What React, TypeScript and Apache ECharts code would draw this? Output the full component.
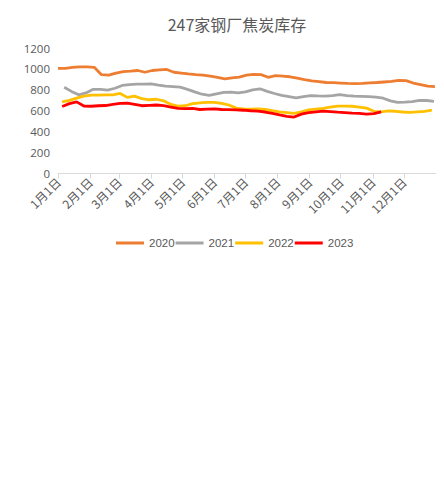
import React, { useEffect, useRef } from "react";
import * as echarts from "echarts";

const monthDays = [31, 28, 31, 30, 31, 30, 31, 31, 30, 31, 30, 31];
const seriesNames = ["2020", "2021", "2022", "2023"];
const seriesColors = ["#ED7D31", "#A5A5A5", "#FFC000", "#FF0000"];
// first day-of-year index of each weekly series, step 7 days
const seriesStartDay = [0, 6, 4, 4];

const values2020 = [1005, 1005, 1015, 1020, 1020, 1015, 945, 940, 960, 975, 978, 985, 968, 985, 990, 995, 968, 960, 952, 945, 940, 930, 918, 905, 915, 922, 940, 948, 945, 920, 935, 932, 925, 912, 898, 885, 878, 870, 868, 865, 862, 860, 862, 866, 870, 875, 880, 890, 888, 865, 850, 835, 830];
const values2021 = [824, 785, 752, 770, 805, 805, 797, 815, 842, 850, 855, 855, 856, 845, 835, 830, 825, 805, 780, 758, 748, 762, 775, 778, 770, 780, 800, 810, 785, 765, 748, 735, 722, 735, 745, 742, 740, 745, 755, 745, 740, 738, 735, 730, 720, 695, 680, 683, 688, 700, 698, 690];
const values2022 = [686, 700, 720, 740, 750, 750, 752, 752, 765, 728, 740, 715, 705, 710, 695, 660, 645, 648, 668, 675, 680, 680, 670, 655, 625, 618, 615, 618, 612, 600, 590, 583, 575, 590, 608, 615, 622, 635, 645, 645, 643, 635, 625, 595, 590, 598, 595, 588, 585, 590, 595, 605];
const values2023 = [640, 668, 685, 645, 643, 648, 650, 660, 670, 672, 662, 648, 652, 655, 648, 635, 622, 620, 622, 612, 615, 618, 612, 610, 608, 605, 600, 596, 588, 575, 560, 546, 540, 568, 582, 590, 596, 592, 586, 582, 577, 574, 568, 572, 590];
const allValues = [values2020, values2021, values2022, values2023];

const yTicks = [0, 200, 400, 600, 800, 1000, 1200];

export default function App() {
  const ref = useRef<HTMLDivElement>(null);
  useEffect(() => {
    if (!ref.current) return;
    const chart = echarts.init(ref.current, null, { renderer: "svg" });
    const categories: string[] = [];
    const monthStarts: number[] = [];
    let idx = 0;
    monthDays.forEach((n, m) => {
      monthStarts.push(idx);
      for (let d = 1; d <= n; d++) {
        categories.push(`${m + 1}月${d}日`);
        idx++;
      }
    });
    categories.push("1月1日 ");
    const lastIdx = categories.length - 1;

    const series = seriesNames.map((name, i) => ({
      name,
      type: "line",
      symbol: "none",
      smooth: false,
      lineStyle: { width: 2.8, color: seriesColors[i] },
      itemStyle: { color: seriesColors[i] },
      data: allValues[i].map((v, k) => [seriesStartDay[i] + 7 * k, v]),
    }));

    chart.setOption({
      animation: false,
      title: {
        text: "247家钢厂焦炭库存",
        left: 232,
        textAlign: "center",
        top: 11,
        textStyle: {
          fontSize: 16,
          fontWeight: "normal",
          color: "#595959",
          fontFamily: "'Noto Sans CJK SC', sans-serif",
        },
      },
      grid: { left: 58, right: 8, top: 48, bottom: 311.5, containLabel: false },
      xAxis: {
        type: "category",
        data: categories,
        boundaryGap: false,
        axisLine: { lineStyle: { color: "#D9D9D9", width: 1 } },
        axisTick: {
          show: true,
          length: 5,
          interval: (i: number) => monthStarts.includes(i) || i === lastIdx,
          lineStyle: { color: "#D9D9D9" },
        },
        axisLabel: {
          interval: (i: number) => monthStarts.includes(i),
          rotate: 45,
          fontSize: 12,
          color: "#595959",
          margin: 6,
          fontFamily: "'Noto Sans CJK SC', sans-serif",
        },
        splitLine: { show: false },
      },
      yAxis: {
        type: "value",
        min: yTicks[0],
        max: yTicks[yTicks.length - 1],
        interval: 200,
        axisLine: { show: false },
        axisTick: { show: false },
        splitLine: { show: false },
        axisLabel: {
          fontSize: 11.5,
          color: "#595959",
          margin: 8,
          formatter: (v: number) => String(v),
          fontFamily: "'Open Sans', sans-serif",
        },
      },
      legend: {
        data: seriesNames,
        left: 116,
        top: 237,
        padding: 0,
        icon: "rect",
        itemWidth: 28,
        itemHeight: 3,
        itemGap: 1,
        textStyle: { fontSize: 11.5, color: "#595959", fontFamily: "'Liberation Sans', sans-serif" },
      },
      series,
    });
    return () => chart.dispose();
  }, []);
  return <div ref={ref} style={{ width: 444, height: 485, margin: -8 }} />;
}
